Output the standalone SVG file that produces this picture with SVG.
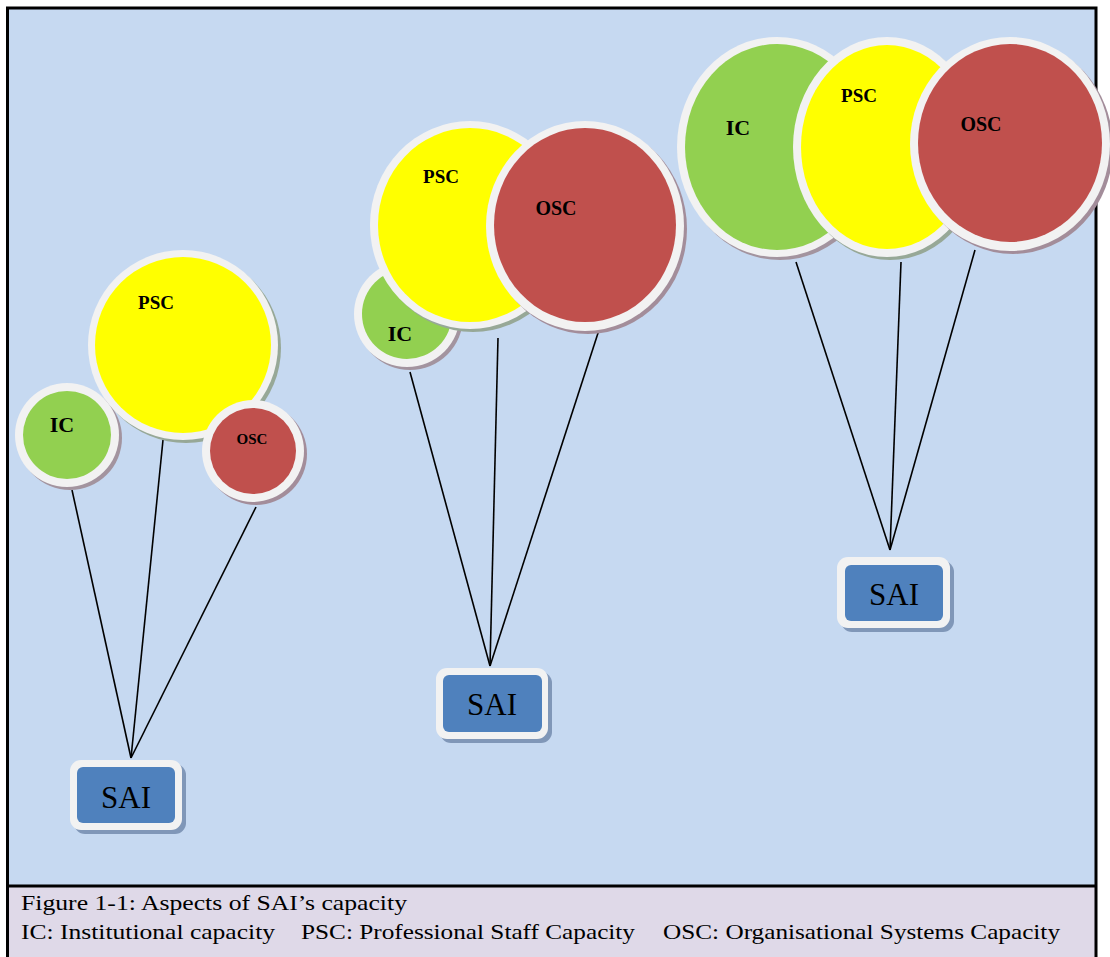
<svg xmlns="http://www.w3.org/2000/svg" width="1110" height="957" viewBox="0 0 1110 957">
  <style>
    .ring { fill: #f2f2f2; }
    .sh-g { fill: #a3949f; }
    .sh-y { fill: #97a897; }
    .sh-r { fill: #a38d9a; }
    .ic { fill: #92d050; }
    .psc { fill: #ffff00; }
    .osc { fill: #c0504d; }
    .lbl { font-family: 'Times New Roman', 'Liberation Serif', Tinos, serif; font-weight: bold; fill: #000; text-anchor: middle; }
    .box-sh { fill: #8097b8; }
    .box-ring { fill: #f2f2f2; }
    .box { fill: #4f81bd; }
    .sai { font-family: 'Liberation Serif', 'Times New Roman', serif; font-size: 31px; fill: #000; text-anchor: middle; }
    .rope { stroke: #000; stroke-width: 1.6; fill: none; }
    .cap { font-family: 'Liberation Serif', 'Times New Roman', serif; font-size: 21px; fill: #000; }
  </style>

  <!-- background panel and caption band -->
  <rect x="0" y="0" width="1110" height="957" fill="#ffffff"/>
  <rect x="7" y="8" width="1089" height="878" fill="#c6d9f1"/>
  <rect x="7" y="886" width="1089" height="71" fill="#dfd9e8"/>
  <path d="M7.5 957 V8 H1096 V957" fill="none" stroke="#000" stroke-width="3"/>
  <line x1="7" y1="886" x2="1096" y2="886" stroke="#000" stroke-width="3"/>

  <!-- connectors -->
  <g id="connectors">
    <line class="rope" x1="72" y1="490" x2="131" y2="758"/>
    <line class="rope" x1="163" y1="440" x2="131" y2="758"/>
    <line class="rope" x1="256" y1="507" x2="131" y2="758"/>

    <line class="rope" x1="410" y1="372" x2="490" y2="666"/>
    <line class="rope" x1="498" y1="338" x2="490" y2="666"/>
    <line class="rope" x1="599" y1="330" x2="490" y2="666"/>

    <line class="rope" x1="796" y1="262" x2="890" y2="550"/>
    <line class="rope" x1="901" y1="262" x2="890" y2="550"/>
    <line class="rope" x1="975" y1="250" x2="890" y2="550"/>
  </g>

  <!-- cluster 1 -->
  <g id="ic1">
    <circle class="sh-g" cx="70" cy="438" r="52"/>
    <circle class="ring" cx="67" cy="435" r="52"/>
    <circle class="ic" cx="67" cy="435" r="44"/>
    <text class="lbl" x="62" y="432" font-size="22">IC</text>
  </g>
  <g id="psc1">
    <circle class="sh-y" cx="186" cy="348" r="95"/>
    <circle class="ring" cx="183" cy="345" r="95"/>
    <circle class="psc" cx="183" cy="345" r="88"/>
    <text class="lbl" x="156" y="309" font-size="19">PSC</text>
  </g>
  <g id="osc1">
    <circle class="sh-r" cx="256" cy="454" r="51"/>
    <circle class="ring" cx="253" cy="451" r="51"/>
    <circle class="osc" cx="253" cy="451" r="43"/>
    <text class="lbl" x="252" y="444" font-size="15">OSC</text>
  </g>
  <g id="sai1">
    <rect class="box-sh" x="74" y="764" width="112" height="70" rx="11"/>
    <rect class="box-ring" x="70" y="760" width="112" height="70" rx="11"/>
    <rect class="box" x="77" y="767" width="98" height="56" rx="6"/>
    <text class="sai" x="126" y="808">SAI</text>
  </g>

  <!-- cluster 2 -->
  <g id="ic2">
    <circle class="sh-g" cx="410" cy="317" r="53"/>
    <circle class="ring" cx="407" cy="314" r="53"/>
    <circle class="ic" cx="407" cy="314" r="45"/>
    <text class="lbl" x="400" y="341" font-size="22">IC</text>
  </g>
  <g id="psc2">
    <ellipse class="sh-y" cx="473" cy="228" rx="100" ry="104"/>
    <ellipse class="ring" cx="470" cy="225" rx="100" ry="104"/>
    <ellipse class="psc" cx="470" cy="225" rx="92" ry="97"/>
    <text class="lbl" x="441" y="183" font-size="19">PSC</text>
  </g>
  <g id="osc2">
    <ellipse class="sh-r" cx="588" cy="229" rx="99" ry="105"/>
    <ellipse class="ring" cx="585" cy="226" rx="99" ry="105"/>
    <ellipse class="osc" cx="585" cy="225" rx="91" ry="97"/>
    <text class="lbl" x="556" y="215" font-size="20">OSC</text>
  </g>
  <g id="sai2">
    <rect class="box-sh" x="440" y="672" width="112" height="71" rx="11"/>
    <rect class="box-ring" x="436" y="668" width="112" height="71" rx="11"/>
    <rect class="box" x="443" y="675" width="99" height="57" rx="6"/>
    <text class="sai" x="492" y="715">SAI</text>
  </g>

  <!-- cluster 3 -->
  <g id="ic3">
    <ellipse class="sh-g" cx="780" cy="150" rx="100" ry="110"/>
    <ellipse class="ring" cx="777" cy="147" rx="100" ry="110"/>
    <ellipse class="ic" cx="777" cy="147" rx="92" ry="103"/>
    <text class="lbl" x="738" y="135" font-size="22">IC</text>
  </g>
  <g id="psc3">
    <ellipse class="sh-y" cx="890" cy="150" rx="94" ry="110"/>
    <ellipse class="ring" cx="887" cy="147" rx="94" ry="110"/>
    <ellipse class="psc" cx="887" cy="147" rx="86" ry="102"/>
    <text class="lbl" x="859" y="102" font-size="19">PSC</text>
  </g>
  <g id="osc3">
    <ellipse class="sh-r" cx="1013" cy="147" rx="100" ry="107"/>
    <ellipse class="ring" cx="1010" cy="144" rx="100" ry="107"/>
    <ellipse class="osc" cx="1010" cy="143" rx="92" ry="99"/>
    <text class="lbl" x="981" y="131" font-size="20">OSC</text>
  </g>
  <g id="sai3">
    <rect class="box-sh" x="841" y="561" width="113" height="71" rx="11"/>
    <rect class="box-ring" x="837" y="557" width="113" height="71" rx="11"/>
    <rect class="box" x="845" y="565" width="98" height="56" rx="6"/>
    <text class="sai" x="894" y="605">SAI</text>
  </g>

  <!-- caption -->
  <g id="caption">
    <text class="cap" x="21" y="910" textLength="386" lengthAdjust="spacingAndGlyphs">Figure 1-1:  Aspects of SAI’s capacity</text>
    <text class="cap" x="21" y="939" textLength="254" lengthAdjust="spacingAndGlyphs">IC: Institutional capacity</text>
    <text class="cap" x="301" y="939" textLength="334" lengthAdjust="spacingAndGlyphs">PSC: Professional Staff Capacity</text>
    <text class="cap" x="663" y="939" textLength="397" lengthAdjust="spacingAndGlyphs">OSC: Organisational Systems Capacity</text>
  </g>
</svg>
